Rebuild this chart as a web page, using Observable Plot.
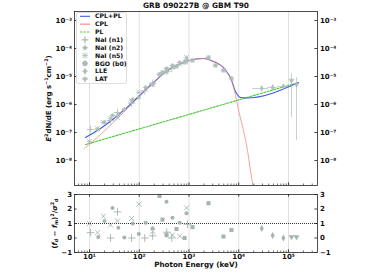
<!DOCTYPE html>
<html><head><meta charset="utf-8">
<script src="https://cdn.jsdelivr.net/npm/d3@7"></script>
<script src="https://cdn.jsdelivr.net/npm/@observablehq/plot@0.6"></script>
<style>
html,body{margin:0;padding:0;background:#fff;}
#wrap{position:relative;width:374px;height:280px;overflow:hidden;font-family:"DejaVu Sans",sans-serif;}
#wrap > svg{display:block;}
#legend{position:absolute;left:0;top:0;}
</style></head><body><div id="wrap"></div>
<script>
// ---------------- data ----------------
const title = "GRB 090227B @ GBM T90";
const xLabel = "Photon Energy (keV)";

// model curves: energy (keV) and E^2 dN/dE (erg s^-1 cm^-2)
const totalE = [8.3, 16.6, 48.2, 92.3, 193, 370, 675, 891, 1230, 1552, 1955, 2466, 3105, 3917, 4935, 5675, 6820, 8610, 10850, 14320, 159000];
const totalF = [6.62e-8, 1.39e-7, 6.11e-7, 1.78e-6, 6.11e-6, 1.64e-5, 2.91e-5, 3.43e-5, 4.05e-5, 4.28e-5, 4.40e-5, 4.05e-5, 3.43e-5, 2.79e-5, 2.09e-5, 1.51e-5, 9.2e-6, 2.91e-6, 1.78e-6, 1.71e-6, 6.11e-6];
const cplE = [7.93, 16.6, 48.2, 92.3, 193, 370, 675, 891, 1230, 1552, 1955, 2466, 3105, 3917, 4935, 5675, 6820, 7480, 8610, 9660, 12450, 14990, 17210, 19320];
const cplF = [2.69e-8, 8.49e-8, 5.18e-7, 1.64e-6, 5.9e-6, 1.64e-5, 2.91e-5, 3.43e-5, 4.05e-5, 4.28e-5, 4.40e-5, 4.05e-5, 3.43e-5, 2.79e-5, 2.09e-5, 1.51e-5, 8.7e-6, 5.62e-6, 2.10e-6, 7.81e-7, 1.18e-7, 2.28e-8, 4.40e-9, 1.25e-9];
const plE = [8.3, 159000];
const plF = [3.73e-8, 6.11e-6];

// NaI (n1)
const n1E = [10.5, 26.5, 36.5, 70, 129, 186, 357, 450, 935];
const n1F = [1.28e-7, 2.68e-7, 5.18e-7, 1.12e-6, 3.06e-6, 5.68e-6, 1.51e-5, 1.96e-5, 3.73e-5];
const n1R = [0.37, 0.0, 1.8, 0.0, 0.0, 0.15, 0.4, 0.0, 0.95];
// NaI (n2)
const n2E = [15, 20, 29, 38, 50, 74, 98, 135, 186, 353, 465, 650, 890];
const n2F = [1.28e-7, 2.28e-7, 4.05e-7, 4.21e-7, 6.63e-7, 1.51e-6, 1.78e-6, 4.05e-6, 5.18e-6, 1.93e-5, 2.47e-5, 3.16e-5, 3.73e-5];
const n2R = [0.07, 1.17, 2.07, 0.7, 0.03, 1.0, 0.27, 1.05, 0.68, 2.5, 1.4, 1.05, 1.7];
// NaI (n5)
const n5E = [10, 14.5, 19, 26.5, 36.5, 70, 98, 186, 465, 650, 890];
const n5F = [4.78e-8, 1.39e-7, 2.28e-7, 3.16e-7, 3.43e-7, 1.39e-6, 2.68e-6, 5.18e-6, 2.09e-5, 2.68e-5, 4.77e-5];
const n5R = [1.0, 0.37, 1.5, 0.9, 1.17, 1.35, 2.33, 0.45, 0.2, 0.12, 2.07];
// BGO (b0)
const b0E = [255, 293, 353, 561, 813, 1175, 2466, 3410, 4935, 7140];
const b0F = [1.18e-5, 1.39e-5, 1.51e-5, 2.28e-5, 3.16e-5, 3.73e-5, 4.77e-5, 2.47e-5, 1.64e-5, 8.49e-6];
const b0R = [2.9, 1.27, 0.2, 0.62, 0.0, 0.75, 2.4, null, 0.1, 0.55];
// LLE
const lleE = [29000, 48000, 79000];
const lleElo = [19000, 38000, 60000];
const lleEhi = [40000, 60000, 95000];
const lleF = [3.73e-6, 4.05e-6, 4.40e-6];
const lleR = [0.65, 0.17, 0.0];
// LAT
const latE = [115000, 145000];
const latF = [7.2e-6, 5.18e-6];
const latFlo = [3.43e-7, 5.1e-8];
const latFhi = [1.28e-5, 9.2e-6];
const latR = [0.08, 0.08];
// typical error-bar half widths of the GBM points (dex)
const gbmErrE = 0.05, gbmErrF = 0.06;

// axes
const xMajor = [1e1, 1e2, 1e3, 1e4, 1e5];
const xMinor = [6,7,8,9,20,30,40,50,60,70,80,90,200,300,400,500,600,700,800,900,2e3,3e3,4e3,5e3,6e3,7e3,8e3,9e3,2e4,3e4,4e4,5e4,6e4,7e4,8e4,9e4,2e5,3e5];
const yTopTicks = [1e-8, 1e-7, 1e-6, 1e-5, 1e-4, 1e-3];
const yBotTicks = [-1, 0, 1, 2, 3];

// ---------------- helpers ----------------
const supMap = {"-":"⁻","0":"⁰","1":"¹","2":"²","3":"³","4":"⁴","5":"⁵","6":"⁶","7":"⁷","8":"⁸","9":"⁹"};
const pow = v => "10" + String(Math.round(Math.log10(v))).split("").map(c => supMap[c]).join("");
const minus = v => v < 0 ? "−" + (-v) : String(v);

const zip = (E, F) => E.map((e, i) => ({E: e, F: F[i]}));
const gbm = (E, F, R) => E.map((e, i) => ({E: e, F: F[i], R: R[i],
  Elo: e / 10 ** gbmErrE, Ehi: e * 10 ** gbmErrE, Flo: F[i] / 10 ** gbmErrF, Fhi: F[i] * 10 ** gbmErrF}));
const n1 = gbm(n1E, n1F, n1R), n2 = gbm(n2E, n2F, n2R), n5 = gbm(n5E, n5F, n5R), b0 = gbm(b0E, b0F, b0R);
const lle = lleE.map((e, i) => ({E: e, F: lleF[i], R: lleR[i], Elo: lleElo[i], Ehi: lleEhi[i], Flo: lleF[i] / 1.15, Fhi: lleF[i] * 1.15}));
const lat = latE.map((e, i) => ({E: e, F: latF[i], R: latR[i], Elo: e / 1.06, Ehi: e * 1.06, Flo: latFlo[i], Fhi: latFhi[i]}));
const allPts = [...n1, ...n2, ...n5, ...b0, ...lle, ...lat];

const blue = "#3d5de0", red = "#f4847a", green = "#4cc83c";
const ptCol = "#adbcb9", resCol = "#9aaca9", ink = "#111";
const xDomain = [4.99, 3.83e5];
const W = 374, ML = 74, MR = 57;
const frameW = W - ML - MR;
const tk = 2.6, tkm = 1.5;

const baseStyle = {background: "transparent", color: ink, fontFamily: "DejaVu Sans", fontWeight: "bold", fontSize: "7px", overflow: "visible"};

function symbolMarks(yKey, col, op) {
  return [
    Plot.dot(n1, {x: "E", y: yKey, symbol: "plus", r: 2.6, stroke: col, strokeWidth: 0.9, opacity: op}),
    Plot.dot(n5, {x: "E", y: yKey, symbol: "times", r: 2.4, stroke: col, strokeWidth: 0.9, opacity: op}),
    Plot.dot(n2, {x: "E", y: yKey, symbol: "circle", r: 2.0, fill: col, opacity: op}),
    Plot.dot(b0, {x: "E", y: yKey, symbol: "square", r: 2.3, fill: col, opacity: op}),
    Plot.dot(lle, {x: "E", y: yKey, symbol: "diamond", r: 2.1, fill: col, opacity: op}),
    Plot.dot(lat, {x: "E", y: yKey, symbol: "triangle", rotate: 180, r: 2.2, fill: col, opacity: op})
  ];
}

// ---------------- top panel ----------------
const TH = 190, TMT = 11, TMB = 5;
const tFrameH = TH - TMT - TMB;
const topPlot = Plot.plot({
  width: W, height: TH, marginTop: TMT, marginBottom: TMB, marginLeft: ML, marginRight: MR,
  style: baseStyle,
  x: {type: "log", domain: xDomain, axis: null},
  y: {type: "log", domain: [1.29e-9, 2.09e-3], axis: null},
  marks: [
    Plot.ruleX(xMajor, {stroke: "#dcdcdc", strokeWidth: 0.9}),
    Plot.line(zip(plE, plF), {x: "E", y: "F", stroke: green, strokeWidth: 1.1, strokeDasharray: "2.2,1.3"}),
    Plot.line(zip(totalE, totalF), {x: "E", y: "F", stroke: blue, strokeWidth: 1.1, curve: "monotone-x"}),
    Plot.line(zip(cplE, cplF), {x: "E", y: "F", stroke: red, strokeWidth: 0.9, strokeOpacity: 0.85, curve: "monotone-x", clip: true}),
    Plot.ruleY(allPts, {y: "F", x1: "Elo", x2: "Ehi", stroke: ptCol, strokeWidth: 0.8, opacity: 0.85}),
    Plot.ruleX(allPts, {x: "E", y1: "Flo", y2: "Fhi", stroke: ptCol, strokeWidth: 0.8, opacity: 0.85, clip: true}),
    ...symbolMarks("F", ptCol, 0.85),
    // ticks (inward)
    Plot.tickY(yTopTicks, {y: d => d, insetRight: frameW - tk, stroke: ink, strokeWidth: 0.8}),
    Plot.tickY(yTopTicks, {y: d => d, insetLeft: frameW - tk, stroke: ink, strokeWidth: 0.8}),
    Plot.tickX(xMajor, {x: d => d, insetTop: tFrameH - tk, stroke: ink, strokeWidth: 0.8}),
    Plot.tickX(xMinor, {x: d => d, insetTop: tFrameH - tkm, stroke: ink, strokeWidth: 0.6}),
    Plot.axisY(yTopTicks, {anchor: "left", tickSize: 0, tickPadding: 2.4, tickFormat: pow, label: null}),
    Plot.axisY(yTopTicks, {anchor: "right", tickSize: 0, tickPadding: 2.4, tickFormat: pow, label: null}),
    Plot.frame({stroke: "#222", strokeWidth: 0.8}),
    Plot.text([title], {frameAnchor: "top", dy: -5.5, lineAnchor: "middle", fontSize: 7.4, fontWeight: "bold"}),
    Plot.text(["YLAB_TOP"], {frameAnchor: "left", rotate: -90, dx: -26, lineAnchor: "middle", textAnchor: "middle", fontSize: 7, fontWeight: "bold"})
  ]
});

// ---------------- bottom panel ----------------
const BH = 90, BMT = 4, BMB = 28;
const bFrameH = BH - BMT - BMB;
const botPlot = Plot.plot({
  width: W, height: BH, marginTop: BMT, marginBottom: BMB, marginLeft: ML, marginRight: MR,
  style: baseStyle,
  x: {type: "log", domain: xDomain, axis: null},
  y: {domain: [-1, 3], axis: null},
  marks: [
    Plot.ruleX(xMajor, {stroke: "#dcdcdc", strokeWidth: 0.9}),
    Plot.ruleY([1], {stroke: "#333", strokeWidth: 1, strokeDasharray: "1,1"}),
    ...symbolMarks("R", resCol, 0.9),
    Plot.tickY(yBotTicks, {y: d => d, insetRight: frameW - tk, stroke: ink, strokeWidth: 0.8}),
    Plot.tickY(yBotTicks, {y: d => d, insetLeft: frameW - tk, stroke: ink, strokeWidth: 0.8}),
    Plot.tickX(xMajor, {x: d => d, insetTop: bFrameH - tk, stroke: ink, strokeWidth: 0.8}),
    Plot.tickX(xMinor, {x: d => d, insetTop: bFrameH - tkm, stroke: ink, strokeWidth: 0.6}),
    Plot.tickX(xMajor, {x: d => d, insetBottom: bFrameH - tk, stroke: ink, strokeWidth: 0.8}),
    Plot.axisY(yBotTicks, {anchor: "left", tickSize: 0, tickPadding: 2.4, tickFormat: minus, label: null}),
    Plot.axisY(yBotTicks, {anchor: "right", tickSize: 0, tickPadding: 2.4, tickFormat: minus, label: null}),
    Plot.axisX(xMajor, {anchor: "bottom", tickSize: 0, tickPadding: 1.5, tickFormat: pow, label: null}),
    Plot.frame({stroke: "#222", strokeWidth: 0.8}),
    Plot.text([xLabel], {frameAnchor: "bottom", dy: 12.5, lineAnchor: "middle", fontSize: 7.2, fontWeight: "bold"}),
    Plot.text(["YLAB_BOT"], {frameAnchor: "left", rotate: -90, dx: -20, lineAnchor: "middle", textAnchor: "middle", fontSize: 7, fontWeight: "bold"})
  ]
});

const wrap = document.getElementById("wrap");
wrap.appendChild(topPlot);
wrap.appendChild(botPlot);

// rich text for axis labels (sub/superscripts, italics)
const NS = "http://www.w3.org/2000/svg";
function rich(el, parts) {
  el.textContent = "";
  let shift = 0;
  for (const [t, k] of parts) {
    const ts = document.createElementNS(NS, "tspan");
    const target = k === "sup" ? -2.6 : k === "sub" ? 1.7 : 0;
    if (target !== shift) { ts.setAttribute("dy", target - shift); shift = target; }
    if (k === "sup" || k === "sub") ts.setAttribute("font-size", "4.9");
    if (k === "it") ts.setAttribute("font-style", "italic");
    ts.textContent = t;
    el.appendChild(ts);
  }
}
document.querySelectorAll("#wrap text").forEach(el => {
  if (el.textContent === "YLAB_TOP") rich(el, [["E","it"],["2","sup"],["dN/dE (erg s",null],["−1","sup"],["cm",null],["−2","sup"],[")",null]]);
  if (el.textContent === "YLAB_BOT") rich(el, [["(",null],["f","it"],["d","sub"],[" − ",null],["f","it"],["m","sub"],[")",null],["2","sup"],["/",null],["σ","it"],["2","sup"],["d","sub"]]);
});

// legend (inside the top panel, upper left)
const leg = d3.select(wrap).append("svg").attr("id", "legend").attr("width", W).attr("height", 100)
  .style("font-family", "DejaVu Sans").style("font-weight", "bold").style("font-size", "6.2px");
leg.append("rect").attr("x", 76.5).attr("y", 12.5).attr("width", 50).attr("height", 71).attr("rx", 1.5)
  .attr("fill", "white").attr("fill-opacity", 0.85).attr("stroke", "#d0d0d0").attr("stroke-width", 0.7);
const entries = [
  {label: "CPL+PL", kind: "line", color: blue},
  {label: "CPL", kind: "line", color: red},
  {label: "PL", kind: "dash", color: green},
  {label: "NaI (n1)", kind: "plus"},
  {label: "NaI (n2)", kind: "circle"},
  {label: "NaI (n5)", kind: "times"},
  {label: "BGO (b0)", kind: "bigcircle"},
  {label: "LLE", kind: "diamond"},
  {label: "LAT", kind: "triangle"}
];
entries.forEach((e, i) => {
  const y = 16.3 + i * 7.85, x0 = 80, x1 = 90, cx = 85;
  const g = leg.append("g");
  if (e.kind === "line" || e.kind === "dash") {
    g.append("line").attr("x1", x0).attr("x2", x1).attr("y1", y).attr("y2", y).attr("stroke", e.color)
      .attr("stroke-width", 1.1).attr("stroke-dasharray", e.kind === "dash" ? "2.2,1.3" : null);
  } else {
    g.append("line").attr("x1", cx - 3).attr("x2", cx + 3).attr("y1", y).attr("y2", y).attr("stroke", ptCol).attr("stroke-width", 0.8);
    g.append("line").attr("x1", cx).attr("x2", cx).attr("y1", y - 3).attr("y2", y + 3).attr("stroke", ptCol).attr("stroke-width", 0.8);
    const sym = {plus: d3.symbolPlus, circle: d3.symbolCircle, times: d3.symbolTimes, bigcircle: d3.symbolCircle, diamond: d3.symbolDiamond, triangle: d3.symbolTriangle}[e.kind];
    const size = e.kind === "bigcircle" ? 22 : e.kind === "plus" || e.kind === "times" ? 18 : 13;
    const p = g.append("path").attr("d", d3.symbol(sym, size)()).attr("transform", `translate(${cx},${y})` + (e.kind === "triangle" ? " rotate(180)" : ""));
    if (e.kind === "plus" || e.kind === "times") p.attr("fill", "none").attr("stroke", ptCol).attr("stroke-width", 0.9);
    else p.attr("fill", ptCol);
  }
  g.append("text").attr("x", 95).attr("y", y).attr("dy", "0.35em").attr("fill", ink).text(e.label);
});
</script>
</body></html>
